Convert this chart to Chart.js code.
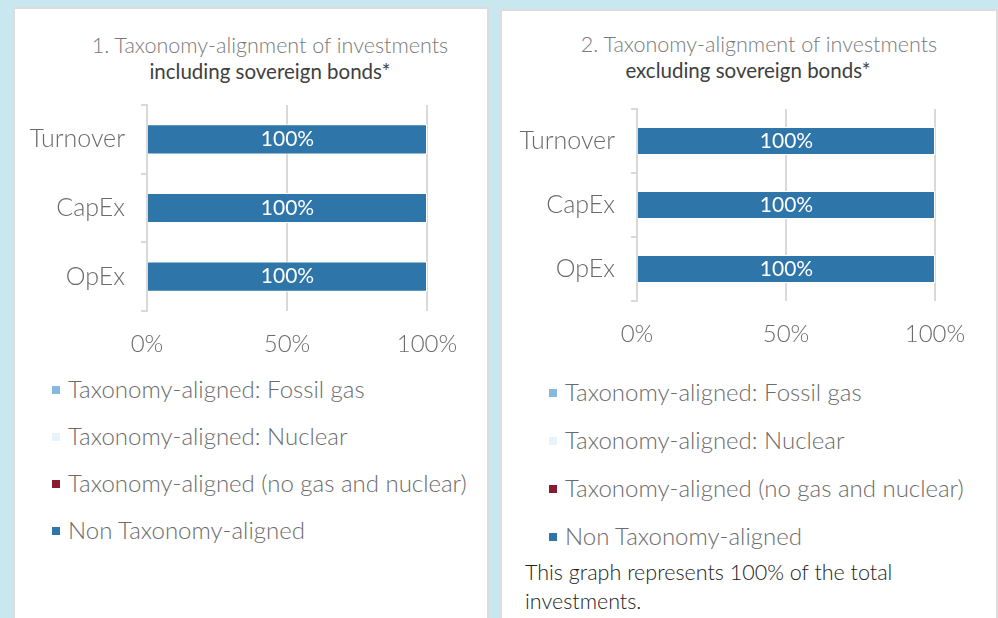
<!DOCTYPE html>
<html>
<head>
<meta charset="utf-8">
<script src="https://cdn.jsdelivr.net/npm/chart.js@4.4.0/dist/chart.umd.min.js"></script>
<style>
    body { margin: 0; width: 998px; height: 618px; background: #c8e7ee; overflow: hidden; font-family: Lato, sans-serif; position: relative; }
    .card { position: absolute; background: #fff; border: 2px solid #dcdcdc; }
    .title { position: absolute; text-align: center; line-height: 26px; }
    .title .l1 { color: #7a7a7a; font-weight: 300; font-size: 21.5px; }
    .title .l2 { color: #404040; font-weight: 400; font-size: 20.5px; }
    .box { position: absolute; }
    .legend { position: absolute; font-size: 24px; line-height: 28px; font-weight: 300; color: #6b6b6b; }
    .legend div { position: relative; white-space: nowrap; }
    .legend span { position: absolute; width: 8px; height: 8px; }
    .note { position: absolute; font-size: 21.5px; line-height: 29px; font-weight: 300; color: #222; }
</style>
</head>
<body>
<div class="card" style="left:13px; top:7px; width:472px; height:640px;"></div>
<div class="card" style="left:500px; top:9px; width:494px; height:640px;"></div>

<div class="title" style="left:20px; top:32px; width:500px;">
    <div class="l1">1. Taxonomy-alignment of investments</div>
    <div class="l2">including sovereign bonds*</div>
</div>
<div class="title" style="left:509px; top:31px; width:500px;">
    <div class="l1">2. Taxonomy-alignment of investments</div>
    <div class="l2" style="margin-right:22px;">excluding sovereign bonds*</div>
</div>

<div class="box" style="left:20px; top:100px; width:460px; height:265px;"><canvas id="chartInc"></canvas></div>
<div class="box" style="left:505px; top:100px; width:480px; height:260px;"><canvas id="chartExc"></canvas></div>

<div class="legend" id="legendInc" style="left:52px; top:375px;"></div>
<div class="legend" id="legendExc" style="left:549px; top:378px;"></div>

<div class="note" style="left:525px; top:558px;">This graph represents 100% of the total<br>investments.</div>

<script>
// Kategori dan data
const categories = ['Turnover', 'CapEx', 'OpEx'];
const seriesLabels = [
    'Taxonomy-aligned: Fossil gas',
    'Taxonomy-aligned: Nuclear',
    'Taxonomy-aligned (no gas and nuclear)',
    'Non Taxonomy-aligned'
];
const xTicks = [0, 50, 100];

// 1. including sovereign bonds
const incFossilGas = [0, 0, 0];
const incNuclear = [0, 0, 0];
const incAligned = [0, 0, 0];
const incNonAligned = [100, 100, 100];

// 2. excluding sovereign bonds
const excFossilGas = [0, 0, 0];
const excNuclear = [0, 0, 0];
const excAligned = [0, 0, 0];
const excNonAligned = [100, 100, 100];

const seriesColors = ['#85b9de', '#e5f3fb', '#8a1a2e', '#2e75aa'];

// Legend HTML
function buildLegend(id, spacing) {
    const el = document.getElementById(id);
    seriesLabels.forEach((label, i) => {
        const row = document.createElement('div');
        row.style.height = spacing + 'px';
        row.style.paddingLeft = '16px';
        row.innerHTML = '<span style="left:0; top:11px; background:' + seriesColors[i] + '"></span>' + label;
        el.appendChild(row);
    });
}
buildLegend('legendInc', 47);
buildLegend('legendExc', 48);

// Plugin untuk label di tengah bar
const barLabels = {
    id: 'barLabels',
    afterDatasetsDraw(chart) {
        const ctx = chart.ctx;
        ctx.save();
        ctx.fillStyle = '#fff';
        ctx.font = '400 21px Lato';
        ctx.textAlign = 'center';
        ctx.textBaseline = 'middle';
        chart.data.datasets.forEach((ds, di) => {
            const meta = chart.getDatasetMeta(di);
            meta.data.forEach((bar, i) => {
                const v = ds.data[i];
                if (!v) return;
                ctx.fillText(v + '%', (bar.x + bar.base) / 2, bar.y);
            });
        });
        ctx.restore();
    }
};

function makeChart(id, series, yWidth, xHeight, padding) {
    const ctx = document.getElementById(id).getContext('2d');
    return new Chart(ctx, {
        type: 'bar',
        data: {
            labels: categories,
            datasets: series.map((data, i) => ({
                label: seriesLabels[i],
                data: data,
                backgroundColor: seriesColors[i],
                borderColor: '#ffffff',
                borderWidth: 1,
                barPercentage: 0.44,
                categoryPercentage: 1
            }))
        },
        options: {
            indexAxis: 'y',
            responsive: true,
            maintainAspectRatio: false,
            animation: false,
            layout: { padding: padding },
            scales: {
                x: {
                    stacked: true,
                    min: 0,
                    max: 100,
                    afterBuildTicks: (scale) => { scale.ticks = xTicks.map(v => ({ value: v })); },
                    afterFit: (scale) => { scale.height = xHeight; },
                    ticks: {
                        color: '#6b6b6b',
                        padding: 19,
                        font: { family: 'Lato', size: 24, weight: '300' },
                        callback: (v) => v + '%'
                    },
                    grid: { color: '#d9d9d9', lineWidth: 2, drawTicks: false },
                    border: { display: false }
                },
                y: {
                    stacked: true,
                    afterFit: (scale) => {
                        scale.width = yWidth;
                        scale.paddingTop = 0;
                        scale.paddingBottom = 0;
                    },
                    ticks: {
                        color: '#6b6b6b',
                        padding: 16,
                        font: { family: 'Lato', size: 25, weight: '300' }
                    },
                    grid: { offset: true, drawOnChartArea: false, drawTicks: true, tickLength: 6, color: '#d9d9d9', lineWidth: 2 },
                    border: { display: true, color: '#d9d9d9', width: 2 }
                }
            },
            plugins: {
                legend: { display: false },
                tooltip: { enabled: false }
            }
        },
        plugins: [barLabels]
    });
}

makeChart('chartInc', [incFossilGas, incNuclear, incAligned, incNonAligned], 127, 54, { top: 5, right: 53, left: 0, bottom: 0 });
makeChart('chartExc', [excFossilGas, excNuclear, excAligned, excNonAligned], 132, 59, { top: 9, right: 50, left: 0, bottom: 0 });
</script>
</body>
</html>
